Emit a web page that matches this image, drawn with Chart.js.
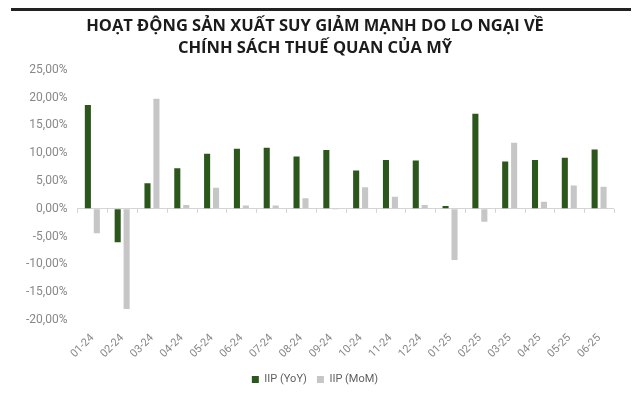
<!DOCTYPE html>
<html>
<head>
<meta charset="utf-8">
<script src="https://cdn.jsdelivr.net/npm/chart.js@4.4.1/dist/chart.umd.min.js"></script>
<style>
  html, body { margin: 0; padding: 0; background: #fff; }
  #wrap { position: relative; width: 640px; height: 403px; }
  #topline { position: absolute; left: 11px; top: 8px; width: 620px; height: 3px; background: #222; }
  canvas { display: block; }
</style>
</head>
<body>
<div id="wrap">
  <div id="topline"></div>
  <canvas id="iipChart" width="640" height="403"></canvas>
</div>
<script>
// months, Jan 2024 - Jun 2025
const months = ["01-24","02-24","03-24","04-24","05-24","06-24","07-24","08-24","09-24",
  "10-24","11-24","12-24","01-25","02-25","03-25","04-25","05-25","06-25"];
// IIP year on year, %
const iipYoY = [18.7, -6.0, 4.6, 7.3, 9.9, 10.8, 11.0, 9.4, 10.6,
  6.9, 8.8, 8.7, 0.5, 17.1, 8.5, 8.8, 9.2, 10.7];
// IIP month on month, %
const iipMoM = [-4.4, -18.0, 19.8, 0.7, 3.8, 0.6, 0.6, 1.9, -0.1,
  3.9, 2.2, 0.7, -9.2, -2.3, 11.9, 1.3, 4.2, 4.0];
const titleLines = ["HOẠT ĐỘNG SẢN XUẤT SUY GIẢM MẠNH DO LO NGẠI VỀ", "CHÍNH SÁCH THUẾ QUAN CỦA MỸ"];

const fmtPct = v => v.toFixed(2).replace('.', ',') + '%';

// little tick marks on the zero line between the month groups
const zeroTicks = {
  id: 'zeroTicks',
  afterDatasetsDraw(chart) {
    const x = chart.scales.x, y = chart.scales.y;
    const y0 = y.getPixelForValue(0);
    const ctx = chart.ctx;
    ctx.save();
    ctx.strokeStyle = '#d4d4d4';
    ctx.lineWidth = 1;
    ctx.beginPath();
    for (let i = 0; i <= months.length; i++) {
      const px = i < months.length
        ? x.getPixelForValue(i) - (x.getPixelForValue(1) - x.getPixelForValue(0)) / 2
        : x.right;
      ctx.moveTo(Math.round(px) + 0.5, y0);
      ctx.lineTo(Math.round(px) + 0.5, y0 + 4);
    }
    ctx.stroke();
    ctx.restore();
  }
};

new Chart(document.getElementById('iipChart'), {
  type: 'bar',
  data: {
    labels: months,
    datasets: [
      { label: 'IIP (YoY)', data: iipYoY, backgroundColor: '#2c571c',
        categoryPercentage: 0.6, barPercentage: 0.68 },
      { label: 'IIP (MoM)', data: iipMoM, backgroundColor: '#c6c6c6',
        categoryPercentage: 0.6, barPercentage: 0.68 }
    ]
  },
  options: {
    responsive: false,
    animation: false,
    layout: { padding: { left: 16, right: 26, top: 0, bottom: 8 } },
    plugins: {
      title: {
        display: true,
        text: titleLines,
        color: '#1b1b1b',
        font: { family: 'Open Sans', size: 16.5, weight: 'bold', lineHeight: 1.3 },
        padding: { top: 16, bottom: 11 }
      },
      legend: {
        position: 'bottom',
        labels: {
          boxWidth: 7, boxHeight: 7, padding: 10,
          color: '#5f5f5f', font: { family: 'Roboto', size: 11 }
        }
      },
      tooltip: { enabled: false }
    },
    scales: {
      x: {
        grid: { display: false },
        border: { display: false },
        ticks: {
          color: '#888', font: { family: 'Roboto', size: 11 },
          maxRotation: 45, minRotation: 45, padding: 3.5
        }
      },
      y: {
        min: -20, max: 25,
        ticks: { stepSize: 5, color: '#888', font: { family: 'Roboto', size: 12 },
          padding: 10, callback: v => fmtPct(v) },
        grid: {
          drawTicks: false,
          color: c => c.tick.value === 0 ? '#d4d4d4' : 'rgba(0,0,0,0)'
        },
        border: { display: false }
      }
    }
  },
  plugins: [zeroTicks]
});
</script>
</body>
</html>
